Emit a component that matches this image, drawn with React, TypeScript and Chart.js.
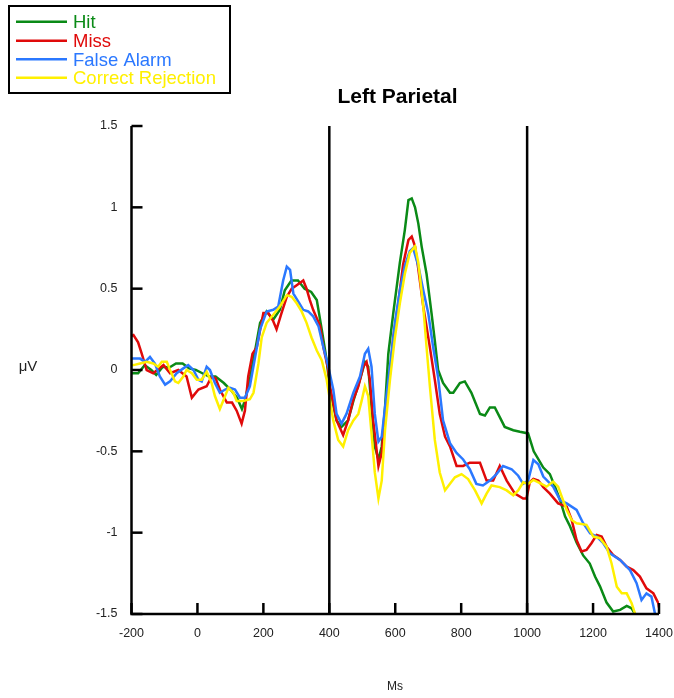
import React, { useEffect, useRef } from "react";
import { Chart, registerables } from "chart.js";

Chart.register(...registerables);

const seriesNames = ["Hit", "Miss", "False Alarm", "Correct Rejection"];
const seriesColors = ["#0a8a16", "#e00a0a", "#2b78ff", "#fff000"];

const xTicks = [-200, 0, 200, 400, 600, 800, 1000, 1200, 1400];
const yTicks = [-1.5, -1, -0.5, 0, 0.5, 1, 1.5];
const markerLines = [400, 1000];

const hitMs = [-200, -180, -160, -140, -125, -105, -85, -65, -45, -25, -5, 15, 35, 55, 80, 100, 120, 135, 145, 160, 175, 190, 210, 230, 250, 265, 285, 305, 325, 345, 362, 377, 392, 402, 422, 437, 457, 473, 493, 508, 518, 528, 538, 549, 559, 569, 579, 594, 614, 629, 640, 650, 660, 670, 680, 695, 710, 720, 730, 745, 766, 776, 796, 811, 831, 857, 872, 887, 902, 917, 932, 958, 978, 1003, 1020, 1049, 1069, 1085, 1100, 1115, 1130, 1150, 1170, 1190, 1206, 1221, 1241, 1261, 1282, 1302, 1317, 1327, 1335];
const hitUv = [-0.02, -0.02, 0.03, 0.0, -0.03, 0.02, 0.015, 0.04, 0.04, 0.01, 0.0, -0.02, -0.04, -0.04, -0.08, -0.12, -0.17, -0.24, -0.18, -0.04, 0.12, 0.29, 0.36, 0.31, 0.37, 0.49, 0.55, 0.55, 0.5, 0.48, 0.43, 0.25, 0.06, -0.12, -0.31, -0.35, -0.31, -0.19, -0.06, 0.05, 0.02, -0.23, -0.47, -0.55, -0.47, -0.23, 0.1, 0.35, 0.66, 0.86, 1.045, 1.055, 1.0, 0.9, 0.76, 0.59, 0.35, 0.18, 0.0, -0.08, -0.14, -0.14, -0.08, -0.07, -0.14, -0.27, -0.28, -0.23, -0.23, -0.29, -0.35, -0.37, -0.38, -0.39, -0.5, -0.6, -0.64, -0.72, -0.8, -0.9, -0.96, -1.06, -1.14, -1.19, -1.27, -1.33, -1.43, -1.485, -1.475, -1.45, -1.465, -1.5, -1.55];

const missMs = [-200, -194, -180, -169, -154, -134, -103, -83, -58, -33, -17, 3, 28, 43, 55, 68, 89, 105, 119, 134, 144, 154, 167, 180, 200, 215, 230, 240, 255, 271, 286, 300, 321, 331, 341, 351, 372, 382, 397, 402, 422, 442, 457, 473, 488, 503, 513, 523, 533, 549, 559, 569, 584, 594, 609, 624, 640, 650, 660, 670, 685, 705, 720, 735, 751, 766, 786, 806, 826, 857, 877, 897, 917, 938, 963, 988, 998, 1008, 1019, 1034, 1049, 1069, 1094, 1120, 1135, 1150, 1165, 1180, 1195, 1211, 1226, 1241, 1261, 1282, 1302, 1322, 1342, 1362, 1383, 1398, 1400];
const missUv = [0.21, 0.215, 0.17, 0.1, 0.0, -0.02, 0.03, -0.02, 0.0, -0.04, -0.17, -0.12, -0.1, -0.04, -0.05, -0.12, -0.2, -0.2, -0.25, -0.33, -0.25, -0.04, 0.1, 0.14, 0.35, 0.35, 0.3, 0.25, 0.35, 0.45, 0.5, 0.52, 0.55, 0.5, 0.43, 0.37, 0.27, 0.14, 0.0, -0.1, -0.31, -0.4, -0.31, -0.18, -0.1, 0.02, 0.05, -0.06, -0.31, -0.59, -0.51, -0.27, -0.02, 0.2, 0.41, 0.65, 0.8, 0.82, 0.76, 0.62, 0.39, 0.14, -0.06, -0.27, -0.41, -0.47, -0.59, -0.59, -0.57, -0.57, -0.68, -0.68, -0.59, -0.68, -0.76, -0.79, -0.79, -0.69, -0.67, -0.68, -0.72, -0.76, -0.82, -0.84, -0.92, -1.045, -1.116, -1.106, -1.065, -1.014, -1.024, -1.086, -1.137, -1.168, -1.209, -1.23, -1.27, -1.342, -1.373, -1.434, -1.46];

const faMs = [-200, -194, -174, -159, -144, -129, -114, -98, -83, -63, -43, -28, -12, 3, 13, 28, 38, 53, 68, 84, 99, 114, 129, 144, 159, 175, 190, 210, 230, 245, 260, 271, 281, 291, 306, 321, 336, 351, 367, 382, 397, 412, 422, 437, 452, 473, 493, 508, 518, 528, 538, 549, 559, 569, 584, 599, 614, 629, 644, 654, 670, 685, 700, 715, 730, 745, 766, 786, 806, 826, 846, 866, 887, 907, 927, 953, 973, 988, 1003, 1019, 1034, 1049, 1079, 1100, 1120, 1150, 1170, 1191, 1211, 1231, 1251, 1282, 1312, 1332, 1347, 1362, 1377, 1388, 1395];
const faUv = [0.07, 0.07, 0.07, 0.05, 0.08, 0.04, -0.04, -0.09, -0.07, -0.02, 0.01, 0.03, 0.0, -0.06, -0.07, 0.02, 0.0, -0.08, -0.14, -0.12, -0.11, -0.12, -0.17, -0.17, -0.1, 0.08, 0.25, 0.36, 0.37, 0.39, 0.55, 0.635, 0.615, 0.47, 0.42, 0.37, 0.36, 0.33, 0.27, 0.14, 0.02, -0.12, -0.27, -0.33, -0.27, -0.14, -0.04, 0.1, 0.13, 0.02, -0.27, -0.44, -0.41, -0.23, 0.02, 0.29, 0.49, 0.64, 0.73, 0.75, 0.64, 0.49, 0.35, 0.14, -0.045, -0.31, -0.45, -0.51, -0.55, -0.61, -0.7, -0.71, -0.68, -0.64, -0.59, -0.61, -0.65, -0.7, -0.68, -0.553, -0.58, -0.655, -0.717, -0.8, -0.82, -0.86, -0.942, -1.004, -1.024, -1.065, -1.127, -1.168, -1.23, -1.31, -1.414, -1.373, -1.393, -1.5, -1.56];

const crMs = [-200, -194, -174, -154, -134, -119, -108, -93, -83, -68, -58, -43, -33, -17, -2, 13, 28, 43, 53, 68, 84, 94, 109, 119, 139, 159, 170, 185, 195, 210, 230, 250, 271, 286, 301, 316, 331, 346, 362, 377, 392, 412, 427, 442, 457, 473, 488, 498, 508, 518, 528, 538, 549, 559, 569, 584, 599, 614, 629, 644, 660, 670, 685, 695, 705, 720, 735, 751, 766, 781, 801, 821, 842, 862, 877, 892, 917, 938, 958, 973, 988, 1003, 1019, 1039, 1059, 1079, 1094, 1105, 1120, 1135, 1150, 1180, 1201, 1221, 1241, 1256, 1272, 1287, 1302, 1317, 1327, 1335];
const crUv = [0.03, 0.03, 0.04, 0.05, 0.04, 0.02, 0.05, 0.05, 0.0, -0.07, -0.08, -0.04, 0.0, -0.02, -0.06, -0.06, -0.01, -0.08, -0.16, -0.24, -0.16, -0.11, -0.14, -0.19, -0.19, -0.18, -0.14, 0.04, 0.2, 0.29, 0.34, 0.39, 0.46, 0.45, 0.41, 0.36, 0.29, 0.2, 0.12, 0.06, -0.06, -0.31, -0.43, -0.47, -0.37, -0.31, -0.27, -0.19, -0.1, -0.16, -0.39, -0.63, -0.79, -0.68, -0.37, -0.06, 0.2, 0.41, 0.59, 0.72, 0.76, 0.66, 0.39, 0.14, -0.1, -0.43, -0.63, -0.74, -0.7, -0.66, -0.64, -0.67, -0.74, -0.82, -0.76, -0.71, -0.72, -0.74, -0.77, -0.74, -0.69, -0.7, -0.676, -0.696, -0.717, -0.686, -0.717, -0.778, -0.86, -0.922, -0.942, -0.952, -1.024, -1.034, -1.086, -1.188, -1.332, -1.373, -1.373, -1.434, -1.496, -1.56];

const FONT = "'Liberation Sans', Arial, sans-serif";

const overlayPlugin = {
  id: "overlay",
  afterDatasetsDraw(chart: any) {
    const { ctx, chartArea, scales } = chart;
    const xs = scales.x;
    const ys = scales.y;
    ctx.save();
    ctx.strokeStyle = "#000";
    ctx.lineWidth = 2.5;
    ctx.lineCap = "butt";
    markerLines.forEach((m) => {
      const px = xs.getPixelForValue(m);
      ctx.beginPath();
      ctx.moveTo(px, chartArea.top);
      ctx.lineTo(px, chartArea.bottom);
      ctx.stroke();
    });
    ctx.beginPath();
    ctx.moveTo(chartArea.left, chartArea.top);
    ctx.lineTo(chartArea.left, chartArea.bottom);
    ctx.lineTo(chartArea.right, chartArea.bottom);
    ctx.stroke();
    yTicks.forEach((t) => {
      const py = ys.getPixelForValue(t);
      ctx.beginPath();
      ctx.moveTo(chartArea.left, py);
      ctx.lineTo(chartArea.left + 11, py);
      ctx.stroke();
    });
    xTicks.forEach((t) => {
      const px = xs.getPixelForValue(t);
      ctx.beginPath();
      ctx.moveTo(px, chartArea.bottom);
      ctx.lineTo(px, chartArea.bottom - 11);
      ctx.stroke();
    });
    ctx.restore();
  },
  afterDraw(chart: any) {
    const { ctx } = chart;
    ctx.save();
    ctx.fillStyle = "#000";
    ctx.font = `bold 21px ${FONT}`;
    ctx.textAlign = "center";
    ctx.textBaseline = "alphabetic";
    ctx.fillText("Left Parietal", 397.5, 103);
    ctx.fillStyle = "#222";
    ctx.font = `15px ${FONT}`;
    ctx.fillText("μV", 28, 371);
    ctx.font = `12px ${FONT}`;
    ctx.fillText("Ms", 395, 690);
    ctx.strokeStyle = "#000";
    ctx.lineWidth = 2;
    ctx.strokeRect(9, 6, 221, 87);
    const rowY = [21.7, 40.7, 59.3, 77.7];
    ctx.font = `18.5px ${FONT}`;
    ctx.textAlign = "left";
    seriesNames.forEach((name, i) => {
      ctx.strokeStyle = seriesColors[i];
      ctx.lineWidth = 2.5;
      ctx.beginPath();
      ctx.moveTo(16, rowY[i]);
      ctx.lineTo(67, rowY[i]);
      ctx.stroke();
      ctx.fillStyle = seriesColors[i];
      ctx.fillText(name, 73, rowY[i] + 6.5);
    });
    ctx.restore();
  },
};

export default function App() {
  const ref = useRef<HTMLCanvasElement | null>(null);
  useEffect(() => {
    if (!ref.current) return;
    const msArrays = [hitMs, missMs, faMs, crMs];
    const uvArrays = [hitUv, missUv, faUv, crUv];
    const datasets = seriesNames.map((name, i) => ({
      label: name,
      data: msArrays[i].map((m, j) => ({ x: m, y: uvArrays[i][j] })),
      borderColor: seriesColors[i],
      backgroundColor: seriesColors[i],
      borderWidth: 2.5,
      pointRadius: 0,
      tension: 0,
      fill: false,
      order: seriesNames.length - i,
    }));
    const chart = new Chart(ref.current, {
      type: "line",
      data: { datasets },
      options: {
        animation: false,
        responsive: false,
        maintainAspectRatio: false,
        layout: { padding: { top: 126, right: 15, left: 0, bottom: 0 } },
        plugins: {
          legend: { display: false },
          title: { display: false },
          tooltip: { enabled: false },
        },
        scales: {
          x: {
            type: "linear",
            min: -200,
            max: 1400,
            afterBuildTicks: (s: any) => {
              s.ticks = xTicks.map((v) => ({ value: v }));
            },
            afterFit: (s: any) => {
              s.height = 84;
              s.paddingLeft = 0;
              s.paddingRight = 0;
            },
            grid: { display: false, drawTicks: false },
            border: { display: false },
            ticks: {
              padding: 12,
              color: "#222",
              font: { family: FONT, size: 12.5 },
              maxRotation: 0,
              autoSkip: false,
              callback: (v: any) => String(v),
            },
          },
          y: {
            type: "linear",
            min: -1.5,
            max: 1.5,
            afterBuildTicks: (s: any) => {
              s.ticks = yTicks.map((v) => ({ value: v }));
            },
            afterFit: (s: any) => {
              s.width = 131.5;
              s.paddingTop = 0;
              s.paddingBottom = 0;
            },
            grid: { display: false, drawTicks: false },
            border: { display: false },
            ticks: {
              padding: 14,
              color: "#222",
              font: { family: FONT, size: 12.5 },
              autoSkip: false,
              callback: (v: any) => String(Math.round(Number(v) * 10) / 10),
            },
          },
        },
      },
      plugins: [overlayPlugin],
    });
    return () => chart.destroy();
  }, []);
  return (
    <div style={{ position: "absolute", left: 0, top: 0, width: 674, height: 698, background: "#fff" }}>
      <canvas ref={ref} width={674} height={698} style={{ width: 674, height: 698, display: "block" }} />
    </div>
  );
}
